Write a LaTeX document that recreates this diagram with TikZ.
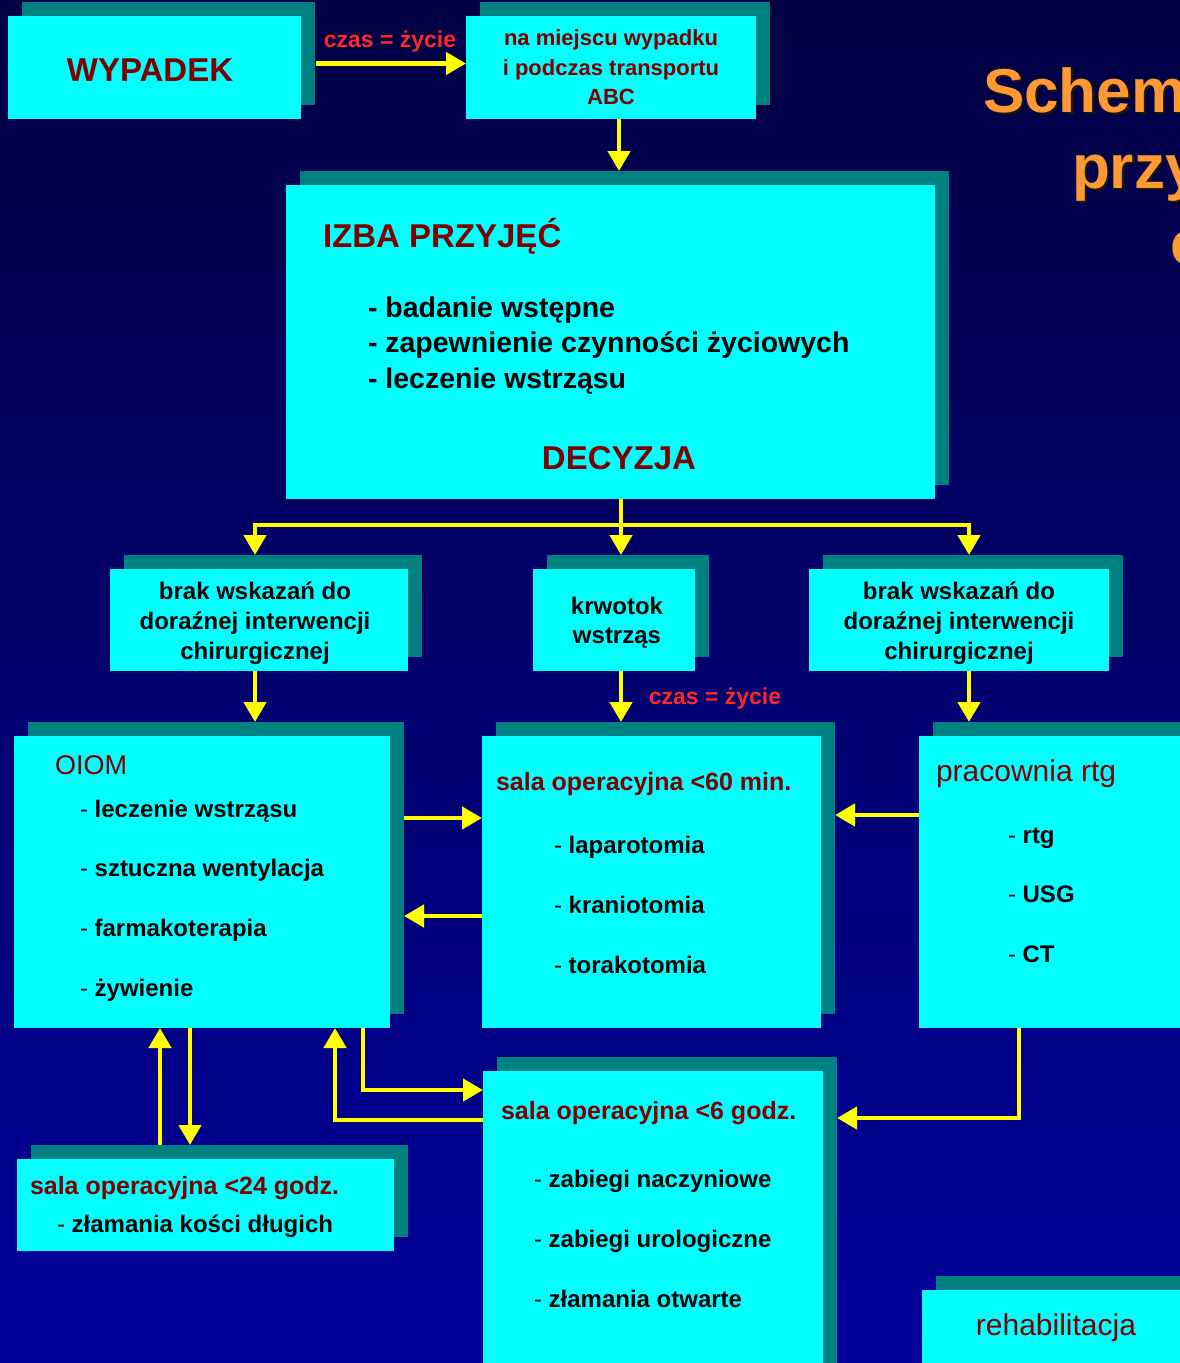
\documentclass[tikz,border=0pt]{standalone}
\usepackage{fontspec}
\setmainfont{Liberation Sans}
\usetikzlibrary{arrows.meta,shadows,calc}
\definecolor{bgtop}{RGB}{0,0,66}
\definecolor{bgbot}{RGB}{0,0,155}
\definecolor{boxcyan}{RGB}{0,255,255}
\definecolor{boxshadow}{RGB}{0,128,128}
\definecolor{dred}{RGB}{128,0,0}
\definecolor{ayellow}{RGB}{255,255,0}
\definecolor{torange}{RGB}{255,153,51}
\definecolor{lred}{RGB}{255,40,40}
\definecolor{tshadow}{RGB}{30,20,10}
\tikzset{
  cbox/.style={rectangle, fill=boxcyan, draw=none, inner sep=0pt, outer sep=0pt,
    general shadow={fill=boxshadow, shadow xshift=14pt, shadow yshift=14pt}},
  arr/.style={draw=ayellow, line width=4.5pt, -{Triangle[length=20pt,width=22pt]}},
  ylink/.style={draw=ayellow, line width=4.5pt, line cap=rect},
  txt/.style={inner sep=0pt, outer sep=0pt},
  hdr/.style={txt, text=dred, font=\bfseries\fontsize{25pt}{30pt}\selectfont},
  bigbold/.style={txt, text=dred, font=\bfseries\fontsize{33pt}{38pt}\selectfont},
  itm/.style={txt, text=black, font=\bfseries\fontsize{24pt}{30pt}\selectfont},
  izitm/.style={txt, text=black, font=\bfseries\fontsize{28.5pt}{35pt}\selectfont},
  czas/.style={txt, text=lred, font=\bfseries\fontsize{23pt}{26pt}\selectfont},
  ttl/.style={txt, font=\bfseries\fontsize{62pt}{76pt}\selectfont},
}
\newcommand{\dsh}{{\mdseries -}\ }
\begin{document}
\begin{tikzpicture}[x=1pt,y=-1pt]
\useasboundingbox (0,0) rectangle (1180,1363);
\clip (0,0) rectangle (1180,1363);
\shade[top color=bgtop, bottom color=bgbot] (0,0) rectangle (1180,1363);

% title (clipped at right edge), with its drop shadow
\node[ttl, text=tshadow, anchor=base west] (t1s) at (985.5,114.5) {Schem};
\node[ttl, text=tshadow, anchor=base west] (t2s) at (1074.5,190.5) {przy};
\node[ttl, text=tshadow, anchor=base west] (t3s) at (1172.5,266.5) {c};
\node[ttl, text=torange, anchor=base west] (t1) at (983,112) {Schem};
\node[ttl, text=torange, anchor=base west] (t2) at (1072,188) {przy};
\node[ttl, text=torange, anchor=base west] (t3) at (1170,264) {c};

% boxes
\node[cbox, minimum width=293pt, minimum height=103pt] (wyp) at (154.5,67.5) {};
\node[cbox, minimum width=290pt, minimum height=103pt] (mie) at (611,67.5) {};
\node[cbox, minimum width=649pt, minimum height=314pt] (izba) at (610.5,342) {};
\node[cbox, minimum width=298pt, minimum height=102pt] (brakL) at (259,620) {};
\node[cbox, minimum width=162pt, minimum height=102pt] (krw) at (614,620) {};
\node[cbox, minimum width=300pt, minimum height=102pt] (brakR) at (959,620) {};
\node[cbox, minimum width=376pt, minimum height=292pt] (oiom) at (202,882) {};
\node[cbox, minimum width=339pt, minimum height=292pt] (sala60) at (651.5,882) {};
\node[cbox, minimum width=280pt, minimum height=292pt] (rtg) at (1059,882) {};
\node[cbox, minimum width=377pt, minimum height=92pt] (sala24) at (205.5,1205) {};
\node[cbox, minimum width=340pt, minimum height=309pt] (sala6) at (653,1225.5) {};
\node[cbox, minimum width=280pt, minimum height=90pt] (rehab) at (1062,1335) {};

% helper coordinates
\coordinate (jL) at (255,525);
\coordinate (jM) at (621,525);
\coordinate (jR) at (969,525);
\coordinate (x619) at (619,0);
\coordinate (x160) at (160,0);
\coordinate (x190) at (190,0);
\coordinate (x335) at (335,0);
\coordinate (x363) at (363,0);
\coordinate (x1019) at (1019,0);
\coordinate (y818) at (0,818);
\coordinate (y916) at (0,916);
\coordinate (y815) at (0,815);
\coordinate (y1120) at (0,1120);
\coordinate (y1090) at (0,1090);
\coordinate (y1118) at (0,1118);

% connectors
\draw[arr] ($(wyp.east)+(15,-4)$) -- ($(mie.west)+(0,-4)$);
\draw[arr] (mie.south -| x619) -- ($(izba.north -| x619)+(0,-14)$);
\draw[ylink] (jL) -- (jR);
\draw[arr] (izba.south -| jM) -- ($(krw.north -| jM)+(0,-14)$);
\draw[arr] (jL) -- ($(brakL.north -| jL)+(0,-14)$);
\draw[arr] (jR) -- ($(brakR.north -| jR)+(0,-14)$);
\draw[arr] (brakL.south -| jL) -- ($(oiom.north -| jL)+(0,-14)$);
\draw[arr] (krw.south -| jM) -- ($(sala60.north -| jM)+(0,-14)$);
\draw[arr] (brakR.south -| jR) -- ($(rtg.north -| jR)+(0,-14)$);
\draw[arr] ($(oiom.east |- y818)+(14,0)$) -- (sala60.west |- y818);
\draw[arr] (sala60.west |- y916) -- ($(oiom.east |- y916)+(14,0)$);
\draw[arr] (rtg.west |- y815) -- ($(sala60.east |- y815)+(14,0)$);
\draw[arr] ($(sala24.north -| x160)+(0,-14)$) -- (oiom.south -| x160);
\draw[arr] (oiom.south -| x190) -- ($(sala24.north -| x190)+(0,-14)$);
\draw[arr] (sala6.west |- y1120) -| (oiom.south -| x335);
\draw[arr] (oiom.south -| x363) |- (sala6.west |- y1090);
\draw[arr] (rtg.south -| x1019) |- ($(sala6.east |- y1118)+(14,0)$);

% labels on connectors
\node[czas, anchor=base] (cz1) at (390,47) {czas = życie};
\node[czas, anchor=base] (cz2) at (715,704) {czas = życie};

% texts
\node[txt, text=dred, font=\bfseries\fontsize{33pt}{38pt}\selectfont] (wypT) at (150,70) {WYPADEK};
\node[txt, text=dred, align=center, font=\bfseries\fontsize{22pt}{29.6pt}\selectfont] (mieT) at (611,67.4)
  {na miejscu wypadku\\i podczas transportu\\ABC};

\node[bigbold, anchor=base west] (izT) at (323,247) {IZBA PRZYJĘĆ};
\node[izitm, anchor=base west] (iz1) at (368,317) {- badanie wstępne};
\node[izitm, anchor=base west] (iz2) at (368,352.5) {- zapewnienie czynności życiowych};
\node[izitm, anchor=base west] (iz3) at (368,388) {- leczenie wstrząsu};
\node[bigbold, anchor=base] (dec) at (619,469) {DECYZJA};

\node[itm, align=center] (brakLT) at (255,623) {brak wskazań do\\doraźnej interwencji\\chirurgicznej};
\node[itm, align=center, font=\bfseries\fontsize{24pt}{29pt}\selectfont] (krwT) at (617,623) {krwotok\\wstrząs};
\node[itm, align=center] (brakRT) at (959,623) {brak wskazań do\\doraźnej interwencji\\chirurgicznej};

\node[txt, text=dred, font=\fontsize{27pt}{32pt}\selectfont, anchor=base west] (oiomT) at (55,774) {OIOM};
\node[itm, anchor=base west] (o1) at (80,817) {\dsh leczenie wstrząsu};
\node[itm, anchor=base west] (o2) at (80,876) {\dsh sztuczna wentylacja};
\node[itm, anchor=base west] (o3) at (80,936) {\dsh farmakoterapia};
\node[itm, anchor=base west] (o4) at (80,996) {\dsh żywienie};

\node[hdr, anchor=base west] (s60T) at (496,790) {sala operacyjna <60 min.};
\node[itm, anchor=base west] (s601) at (554,853) {\dsh laparotomia};
\node[itm, anchor=base west] (s602) at (554,913) {\dsh kraniotomia};
\node[itm, anchor=base west] (s603) at (554,973) {\dsh torakotomia};

\node[txt, text=dred, font=\fontsize{30pt}{34pt}\selectfont, anchor=base west] (rtgT) at (936,781) {pracownia rtg};
\node[itm, anchor=base west] (r1) at (1008,843) {\dsh rtg};
\node[itm, anchor=base west] (r2) at (1008,902) {\dsh USG};
\node[itm, anchor=base west] (r3) at (1008,962) {\dsh CT};

\node[hdr, anchor=base west] (s24T) at (30,1194) {sala operacyjna <24 godz.};
\node[itm, anchor=base west] (s241) at (57,1232) {\dsh złamania kości długich};

\node[hdr, anchor=base west] (s6T) at (501,1119) {sala operacyjna <6 godz.};
\node[itm, anchor=base west] (s61) at (534,1187) {\dsh zabiegi naczyniowe};
\node[itm, anchor=base west] (s62) at (534,1247) {\dsh zabiegi urologiczne};
\node[itm, anchor=base west] (s63) at (534,1307) {\dsh złamania otwarte};

\node[txt, text=dred, font=\fontsize{30pt}{34pt}\selectfont, anchor=base] (rehT) at (1056,1335) {rehabilitacja};
\end{tikzpicture}
\end{document}
